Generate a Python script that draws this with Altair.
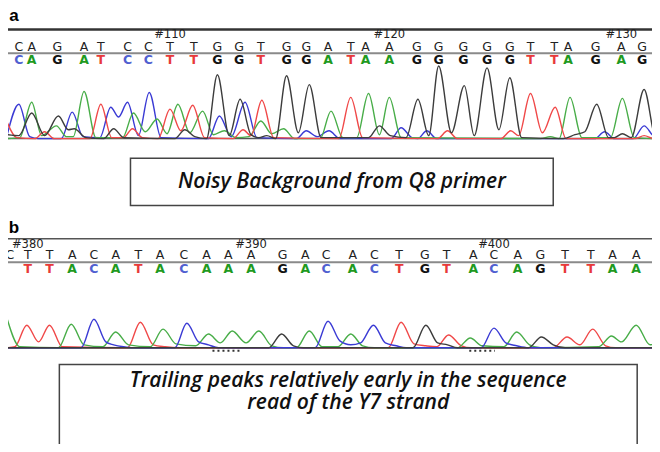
import altair as alt
import pandas as pd

# ---------------- data ----------------
# panel a : base calls (sequence), their scan positions, numbered positions
a_first_base = 103
a_seq = "CAGATCCTTGGTGGATAAGGGGGTTAGAG"
a_pos = [12, 25, 51, 78, 95, 122, 143, 165, 189, 213, 235, 257, 283, 303, 325,
         348, 363, 387, 415, 437, 462, 486, 509, 530, 554, 568, 596, 622, 643]
a_marks = [110, 120, 130]

# panel b
b_first_base = 379
b_seq = "CTTACATACAAAGACACTGTACAGTTAA"
b_pos = [3, 21, 43, 66, 88, 110, 133, 155, 179, 202, 224, 247, 279, 302, 323,
         350, 372, 397, 423, 445, 472, 493, 517, 540, 565, 591, 613, 637]
b_marks = [380, 390, 400]
b_call_seq = "TTACATACAAAGACACTGTACAGTTAAG"
b_call_pos = [21, 43, 66, 88, 110, 133, 155, 179, 202, 224, 247, 279, 302, 323,
              350, 372, 397, 423, 445, 472, 493, 517, 540, 565, 591, 613, 637, 662]

# chromatogram traces: (scan position, signal) key points per dye channel
a_trace_C = [(0, 3), (12, 35), (23, 2), (32, 0), (55, 0), (66, 27), (77, 2), (94, 1), (105, 32), (113, 22),
             (122, 37), (133, 3), (144, 47), (156, 1), (204, 0), (215, 23), (227, 2), (241, 37), (253, 1),
             (293, 0), (303, 8), (314, 2), (326, 8), (337, 0), (389, 0), (399, 11), (410, 1), (416, 0),
             (425, 8), (435, 0), (595, 0), (605, 7), (615, 0), (634, 0), (645, 13), (656, 2), (660, 2)]
a_trace_A = [(0, 0), (13, 1), (25, 37), (35, 3), (50, 13), (60, 2), (67, 2), (78, 48), (90, 1), (117, 1),
             (128, 26), (140, 7), (152, 20), (162, 5), (173, 35), (185, 6), (198, 28), (209, 4), (220, 8),
             (232, 1), (245, 2), (257, 18), (268, 5), (280, 10), (291, 0), (317, 0), (328, 28), (340, 1),
             (354, 1), (366, 46), (377, 4), (387, 42), (399, 1), (540, 0), (550, 2), (559, 0), (570, 42),
             (582, 1), (611, 1), (623, 41), (635, 1), (660, 0)]
a_trace_T = [(0, 17), (10, 1), (28, 0), (38, 7), (48, 0), (84, 0), (95, 35), (106, 1), (118, 1), (127, 10),
             (137, 1), (153, 0), (165, 30), (176, 8), (188, 34), (200, 1), (229, 0), (239, 9), (247, 3),
             (258, 39), (270, 1), (336, 0), (348, 42), (360, 1), (436, 0), (446, 8), (456, 0), (500, 0),
             (510, 8), (518, 3), (530, 46), (542, 6), (555, 32), (566, 0), (636, 0), (645, 3), (655, 0),
             (660, 0)]
a_trace_G = [(0, 4), (12, 3), (25, 26), (38, 3), (52, 23), (62, 9), (68, 10), (80, 1), (98, 0), (108, 10),
             (118, 1), (170, 0), (180, 9), (190, 2), (202, 0), (213, 65), (225, 3), (236, 40), (247, 4),
             (255, 1), (263, 3), (272, 0), (283, 64), (295, 6), (306, 55), (318, 1), (366, 1), (377, 13),
             (388, 3), (404, 1), (416, 40), (427, 3), (437, 74), (450, 6), (463, 54), (473, 3), (486, 72),
             (498, 9), (509, 62), (521, 1), (563, 0), (575, 4), (585, 7), (597, 35), (609, 1), (615, 1),
             (623, 5), (632, 1), (645, 50), (657, 1), (660, 1)]

b_trace_T = [(0, 0), (8, 1), (20, 23), (32, 6), (43, 23), (56, 1), (122, 0), (135, 26), (148, 3), (160, 1),
             (175, 0), (386, 0), (399, 26), (412, 4), (424, 2), (435, 1), (447, 13), (460, 2), (470, 0),
             (553, 0), (567, 11), (580, 3), (593, 19), (606, 2), (616, 0), (660, 0)]
b_trace_A = [(0, 30), (13, 1), (52, 0), (65, 24), (78, 3), (97, 1), (110, 16), (123, 3), (145, 1), (158, 19),
             (171, 4), (191, 2), (204, 14), (216, 5), (228, 17), (242, 5), (255, 17), (268, 2), (280, 0),
             (293, 0), (306, 17), (319, 1), (335, 1), (348, 14), (360, 2), (372, 0), (456, 0), (469, 10),
             (481, 2), (503, 1), (516, 16), (529, 3), (540, 0), (599, 1), (612, 12), (622, 6), (637, 23),
             (651, 3), (656, 5), (660, 12)]
b_trace_C = [(0, 0), (75, 0), (88, 29), (100, 6), (108, 3), (118, 1), (128, 0), (170, 0), (182, 25), (194, 6),
             (204, 3), (214, 0), (312, 0), (325, 27), (337, 7), (348, 3), (358, 5), (371, 23), (383, 5),
             (394, 2), (404, 0), (480, 0), (493, 20), (505, 5), (516, 2), (528, 0), (660, 0)]
b_trace_G = [(0, 0), (265, 0), (278, 14), (290, 2), (300, 0), (411, 0), (424, 23), (436, 5), (446, 3),
             (456, 0), (528, 0), (541, 11), (553, 3), (565, 0), (660, 0)]

a_caption = ["Noisy Background from Q8 primer"]
b_caption = ["Trailing peaks relatively early in the sequence", "read of the Y7 strand"]

# ---------------- layout / styles (reference pixel units) ----------------
W, H = 644, 436
X_DOM = (1, 653)
Y_DOM = (2, 446)
KY = H / (Y_DOM[1] - Y_DOM[0])
L = dict(a_label=10, b_label=226,
         a_top=24, a_mid=48, a_num=29, a_row1=42, a_row2=55, a_base=135, a_top_sig=(65, 70),
         b_top=237, b_mid=261, b_num=243, b_row1=254, b_row2=268, b_base=348, b_top_sig=(30, 318),
         a_box=(125, 553, 155, 203), a_cap_y=[179],
         b_box=(53, 638, 365, 460), b_cap_y=[382, 404])
TRACE_COL = {"A": "#48ad48", "C": "#3a3ad4", "G": "#3c3c3c", "T": "#f04848"}
CALL_COL = {"A": "#1f9a1f", "C": "#5060d0", "G": "#111111", "T": "#e8393a"}
SEQ_FONT = "DejaVu Sans"
CAP_FONT = "Open Sans"

XSCALE = alt.Scale(domain=list(X_DOM), nice=False, zero=False)
YSCALE = alt.Scale(domain=[Y_DOM[1], Y_DOM[0]], nice=False, zero=False)
X = alt.X("x:Q", scale=XSCALE, axis=None)


def Y(field="y"):
    return alt.Y(f"{field}:Q", scale=YSCALE, axis=None)


def seq_rows(seq, pos, y):
    return pd.DataFrame({"x": pos, "y": [y] * len(pos), "b": list(seq),
                         "c": [CALL_COL[ch] for ch in seq]})


def num_rows(marks, first, pos, y):
    return pd.DataFrame({"x": [pos[m - first] for m in marks], "y": [y] * len(marks),
                         "t": [f"#{m}" for m in marks]})


def trace_df(traces):
    rows = []
    for ch, pts in traces.items():
        for i, (x, s) in enumerate(pts):
            rows.append({"ch": ch, "x": x, "s": s, "i": i, "c": TRACE_COL[ch]})
    return pd.DataFrame(rows)


def hline(y, color, w, x0=0, x1=660, dash=None):
    kw = dict(color=color, strokeWidth=w)
    if dash:
        kw["strokeDash"] = dash
    return alt.Chart(pd.DataFrame({"y": [y], "x": [x0], "x2": [x1]})).mark_rule(**kw).encode(
        x=X, x2="x2:Q", y=Y())


layers = []
# panel labels
layers.append(alt.Chart(pd.DataFrame({"x": [7, 7], "y": [L["a_label"], L["b_label"]], "t": ["a", "b"]}))
              .mark_text(font="Liberation Sans", fontWeight="bold", fontSize=17, baseline="middle", align="center")
              .encode(x=X, y=Y(), text="t:N"))

# horizontal guide lines
layers += [hline(L["a_top"], "#333333", 2.5), hline(L["a_mid"], "#8a8a8a", 2),
           hline(L["a_base"], "#555555", 1.5),
           hline(L["b_top"], "#555555", 1.6), hline(L["b_mid"], "#8a8a8a", 2),
           hline(L["b_base"], "#222222", 1.6),
           hline(L["b_base"] + 3, "#333333", 2, 208, 236, [2, 3]),
           hline(L["b_base"] + 3, "#333333", 2, 468, 494, [2, 3])]

# sequence rows
for df in [seq_rows(a_seq, a_pos, L["a_row1"]), seq_rows(b_seq, b_pos, L["b_row1"])]:
    layers.append(alt.Chart(df).mark_text(font=SEQ_FONT, fontSize=12.5, color="#222222", baseline="middle")
                  .encode(x=X, y=Y(), text="b:N"))
for df in [seq_rows(a_seq, a_pos, L["a_row2"]), seq_rows(b_call_seq, b_call_pos, L["b_row2"])]:
    layers.append(alt.Chart(df).mark_text(font=SEQ_FONT, fontSize=12.5, fontWeight="bold", baseline="middle")
                  .encode(x=X, y=Y(), text="b:N", color=alt.Color("c:N", scale=None)))
for df in [num_rows(a_marks, a_first_base, a_pos, L["a_num"]), num_rows(b_marks, b_first_base, b_pos, L["b_num"])]:
    layers.append(alt.Chart(df).mark_text(font=SEQ_FONT, fontSize=11.5, color="#222222", baseline="middle")
                  .encode(x=X, y=Y(), text="t:N"))

# traces
for tr, base, (smax, ypx) in [({"C": a_trace_C, "A": a_trace_A, "T": a_trace_T, "G": a_trace_G}, L["a_base"], L["a_top_sig"]),
                              ({"T": b_trace_T, "A": b_trace_A, "C": b_trace_C, "G": b_trace_G}, L["b_base"], L["b_top_sig"])]:
    rng = [(base - Y_DOM[0]) * KY, (ypx - Y_DOM[0]) * KY]
    layers.append(alt.Chart(trace_df(tr)).mark_line(interpolate="monotone", strokeWidth=1.4)
                  .encode(x=X,
                          y=alt.Y("s:Q", axis=None,
                                  scale=alt.Scale(domain=[0, smax], range=rng, nice=False, zero=False)),
                          color=alt.Color("c:N", scale=None), detail="ch:N", order="i:Q"))

# caption boxes
for (x0, x1, y0, y1), ys, lines in [(L["a_box"], L["a_cap_y"], a_caption), (L["b_box"], L["b_cap_y"], b_caption)]:
    layers.append(alt.Chart(pd.DataFrame({"x": [x0], "x2": [x1], "y": [y0], "y2": [y1]}))
                  .mark_rect(fill="white", stroke="#444444", strokeWidth=1.5)
                  .encode(x=X, x2="x2:Q", y=Y(), y2="y2:Q"))
    layers.append(alt.Chart(pd.DataFrame({"x": [(x0 + x1) / 2] * len(lines), "y": ys, "t": lines}))
                  .mark_text(font=CAP_FONT, fontSize=21, fontWeight=600, fontStyle="italic",
                             color="#111111", baseline="middle")
                  .encode(x=X, y=Y(), text="t:N"))

chart = (alt.layer(*layers)
         .resolve_scale(y="independent")
         .properties(width=W, height=H, padding=0, autosize=alt.AutoSizeParams(type="none"),
                     background="white")
         .configure_view(stroke=None))

chart.save("out.html", embed_options={"renderer": "svg", "actions": False})
